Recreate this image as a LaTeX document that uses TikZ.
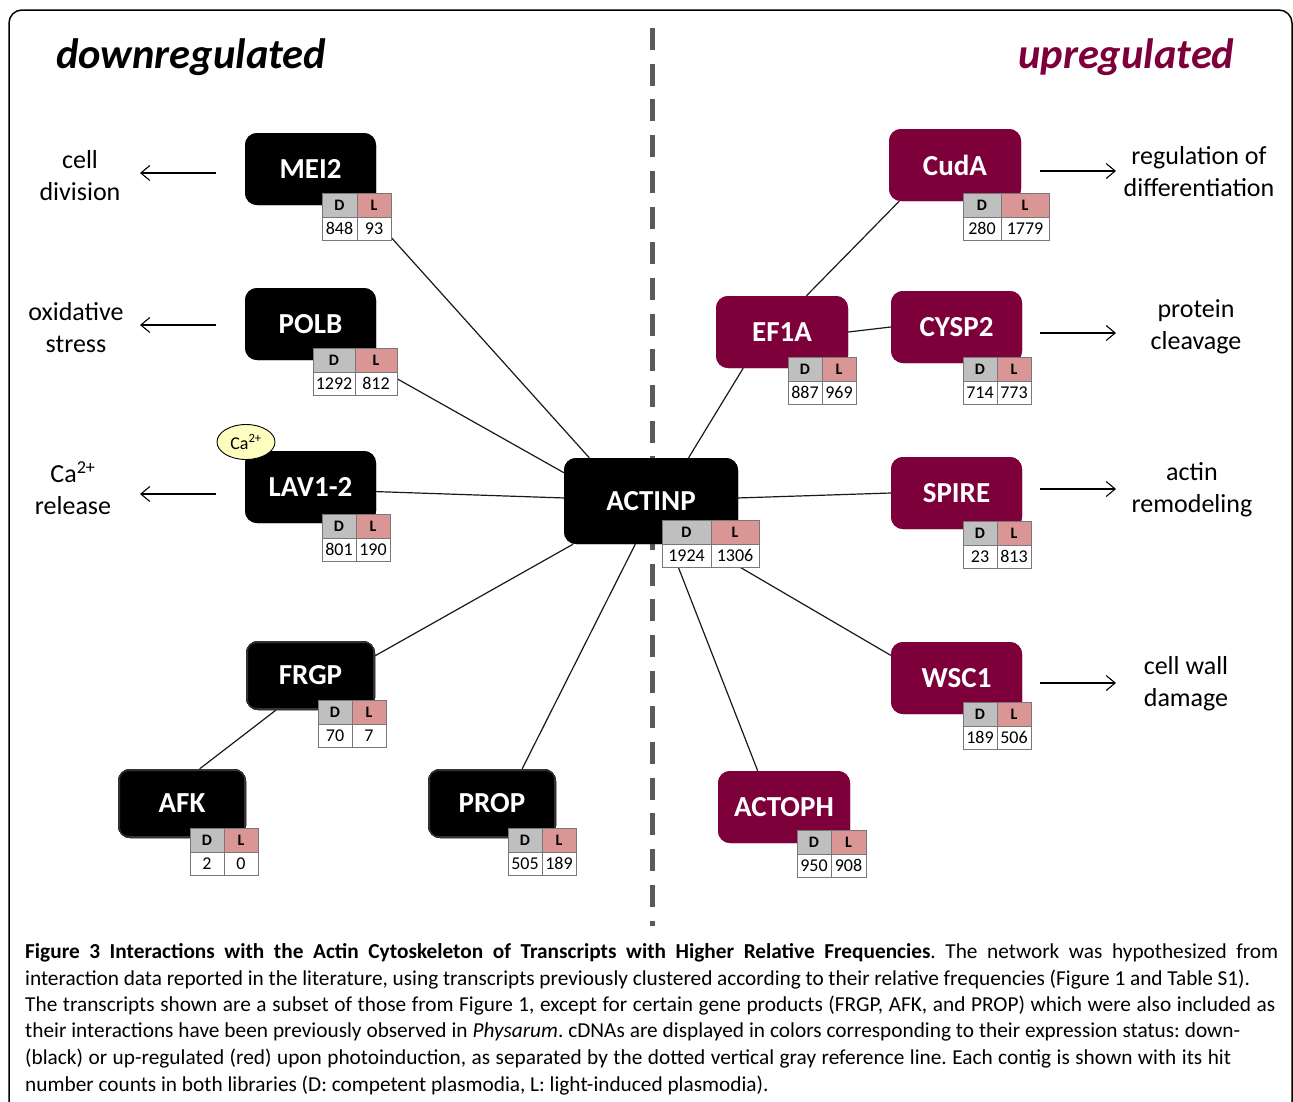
\documentclass[tikz,border=0pt]{standalone}
\usepackage{fontspec}
\setmainfont{Carlito}
\usetikzlibrary{arrows.meta,calc,shapes.geometric}
\definecolor{upred}{RGB}{125,0,58}
\definecolor{dgray}{RGB}{191,191,191}
\definecolor{lpink}{RGB}{217,150,148}
\definecolor{dashgray}{RGB}{90,90,90}
\definecolor{cellline}{RGB}{120,120,120}
\tikzset{
  gene/.style={rounded corners=12pt, minimum width=131, minimum height=72, inner sep=0pt,
    text=white, font=\fontsize{29}{30}\selectfont\bfseries},
  downbox/.style={gene, fill=black},
  upbox/.style={gene, fill=upred},
  bevelbox/.style={gene, fill=black, minimum width=129, minimum height=69,
    path picture={\draw[black!80, line width=4pt, rounded corners=10pt]
      (path picture bounding box.south west) rectangle (path picture bounding box.north east);}},
  cellbase/.style={draw=cellline, line width=0.9pt, inner sep=0pt, outer sep=0pt},
  hdD/.style={cellbase, fill=dgray, minimum height=24, font=\fontsize{16}{16}\selectfont\bfseries},
  hdL/.style={cellbase, fill=lpink, minimum height=24, font=\fontsize{16}{16}\selectfont\bfseries},
  valc/.style={cellbase, fill=white, minimum height=23, font=\fontsize{18}{18}\selectfont},
  link/.style={line width=1.2pt, black!90},
  fnarrow/.style={line width=1.1pt, -{Straight Barb[length=9pt,width=15pt,line width=1.1pt]}},
  fnlabel/.style={align=center, font=\fontsize{26}{32}\selectfont, inner sep=0pt},
  caplines/.style={anchor=base west, inner sep=0pt, font=\fontsize{21.3}{26}\selectfont\frenchspacing},
}
\newcommand\dltab[7]{%
  \node[hdD, minimum width=#4, anchor=north west] (#1hd) at (#2,#3) {D};
  \node[hdL, minimum width=#5, anchor=north west] (#1hl) at (#1hd.north east) {L};
  \node[valc, minimum width=#4, anchor=north west] (#1vd) at (#1hd.south west) {#6};
  \node[valc, minimum width=#5, anchor=north west] (#1vl) at (#1hd.south east) {#7};
}
\begin{document}
\begin{tikzpicture}[x=1pt, y=-1pt]
\useasboundingbox (0,0) rectangle (1293,1101);
% frame
\draw[line width=1.5pt, rounded corners=13pt] (9,1130) -- (9,10) -- (1292,10) -- (1292,1130);
% headers
\node[anchor=west, inner sep=0pt, font=\fontsize{42.5}{42}\selectfont\bfseries\itshape] (hdown) at (56,57) {downregulated};
\node[anchor=west, inner sep=0pt, text=upred, font=\fontsize{42.5}{42}\selectfont\bfseries\itshape] (hup) at (1018,57) {upregulated};
% dashed separator
\coordinate (dtop) at (652,28);
\coordinate (dbot) at (652,926);
\draw[dashgray, line width=5pt, dash pattern=on 22pt off 13.7pt] (dtop) -- (dbot);
% gene boxes
\node[downbox] (MEI2) at (310.5,169) {MEI2};
\node[downbox] (POLB) at (310.5,324) {POLB};
\node[downbox] (LAV) at (310.5,487) {LAV1-2};
\node[downbox, minimum width=174, minimum height=86] (ACTINP) at (651,501) {ACTINP};
\node[bevelbox] (FRGP) at (310.5,675.5) {FRGP};
\node[bevelbox, minimum width=128] (AFK) at (182,803.5) {AFK};
\node[bevelbox, minimum width=128] (PROP) at (492,803.5) {PROP};
\node[upbox, minimum width=132] (CudA) at (955,165) {CudA};
\node[upbox, minimum width=132] (EF1A) at (782,332) {EF1A};
\node[upbox] (CYSP2) at (956.5,327) {CYSP2};
\node[upbox] (SPIRE) at (956.5,493) {SPIRE};
\node[upbox] (WSC1) at (956.5,678) {WSC1};
\node[upbox, minimum width=132] (ACTOPH) at (784,807) {ACTOPH};
% links
\draw[link] (MEI2.-35.5) -- (ACTINP.145);
\draw[link] (POLB.-34.4) -- (ACTINP.162);
\draw[link] (LAV.-4) -- (ACTINP.178);
\draw[link] (FRGP.17.6) -- (ACTINP.209);
\draw[link] (FRGP.225.8) -- (AFK.63.8);
\draw[link] (PROP.49) -- (ACTINP.250.8);
\draw[link] (EF1A.56.3) -- (CudA.213.2);
\draw[link] (EF1A.223.5) -- (ACTINP.49.3);
\draw[link] (EF1A.east) -- (CYSP2.west);
\draw[link] (ACTINP.2.6) -- (SPIRE.west);
\draw[link] (ACTINP.-41.3) -- (WSC1.161.4);
\draw[link] (ACTINP.-67.3) -- (ACTOPH.126.9);
% redraw boxes over links
\node[downbox] at (MEI2) {MEI2};
\node[downbox] at (POLB) {POLB};
\node[downbox] at (LAV) {LAV1-2};
\node[downbox, minimum width=174, minimum height=86] at (ACTINP) {ACTINP};
\node[bevelbox] at (FRGP) {FRGP};
\node[bevelbox, minimum width=128] at (AFK) {AFK};
\node[bevelbox, minimum width=128] at (PROP) {PROP};
\node[upbox, minimum width=132] at (CudA) {CudA};
\node[upbox, minimum width=132] at (EF1A) {EF1A};
\node[upbox] at (CYSP2) {CYSP2};
\node[upbox] at (SPIRE) {SPIRE};
\node[upbox] at (WSC1) {WSC1};
\node[upbox, minimum width=132] at (ACTOPH) {ACTOPH};
% tables
\dltab{mei}{322}{193}{35}{34}{848}{93}
\dltab{polb}{313}{348}{42}{42}{1292}{812}
\dltab{lav}{322}{514}{34}{34}{801}{190}
\dltab{act}{662}{520}{49}{48}{1924}{1306}
\dltab{frgp}{318}{700}{34}{34}{70}{7}
\dltab{afk}{190}{828}{34}{34}{2}{0}
\dltab{prop}{508}{828}{34}{34}{505}{189}
\dltab{cuda}{963}{193}{38}{48}{280}{1779}
\dltab{ef}{788}{357}{34}{34}{887}{969}
\dltab{cysp}{963}{357}{34}{34}{714}{773}
\dltab{spire}{963}{521}{34}{34}{23}{813}
\dltab{wsc}{963}{702}{34}{34}{189}{506}
\dltab{actoph}{797}{830}{34}{35}{950}{908}
% Ca2+ bubble
\node[draw=black, line width=0.9pt, fill=yellow!25, ellipse, minimum width=58, minimum height=35, inner sep=0pt,
  font=\fontsize{18}{18}\selectfont] (ca) at (246,442) {Ca\textsuperscript{2+}};
% function labels
\node[fnlabel] (lcell) at (80,176) {cell\\division};
\node[fnlabel] (lox) at (76,328) {oxidative\\stress};
\node[fnlabel] (lca) at (73,488) {Ca\textsuperscript{2+}\\release};
\node[fnlabel] (lreg) at (1199,172) {regulation of\\differentiation};
\node[fnlabel] (lprot) at (1196,327) {protein\\cleavage};
\node[fnlabel] (lactin) at (1192,490) {actin\\remodeling};
\node[fnlabel] (lwall) at (1186,684) {cell wall\\damage};
% function arrows
\coordinate (a1s) at (216,173); \coordinate (a1e) at (140,173);
\coordinate (a2s) at (216,325); \coordinate (a2e) at (140,325);
\coordinate (a3s) at (216,494); \coordinate (a3e) at (140,494);
\coordinate (b1s) at (1040,171); \coordinate (b1e) at (1116,171);
\coordinate (b2s) at (1040,333); \coordinate (b2e) at (1116,333);
\coordinate (b3s) at (1040,489); \coordinate (b3e) at (1116,489);
\coordinate (b4s) at (1040,683); \coordinate (b4e) at (1116,683);
\foreach \s/\e in {a1s/a1e,a2s/a2e,a3s/a3e,b1s/b1e,b2s/b2e,b3s/b3e,b4s/b4e}
  \draw[fnarrow] (\s) -- (\e);
% caption
\node[caplines] (cap1) at (25,958) {\makebox[1253pt][s]{\textbf{Figure 3 Interactions with the Actin Cytoskeleton of Transcripts with Higher Relative Frequencies}. The network was hypothesized from}};
\node[caplines] (cap2) at (25,985) {\makebox[1225pt][s]{interaction data reported in the literature, using transcripts previously clustered according to their relative frequencies (Figure 1 and Table S1).}};
\node[caplines] (cap3) at (25,1011) {\makebox[1250pt][s]{The transcripts shown are a subset of those from Figure 1, except for certain gene products (FRGP, AFK, and PROP) which were also included as}};
\node[caplines] (cap4) at (25,1037) {\makebox[1215pt][s]{their interactions have been previously observed in \textit{Physarum}. cDNAs are displayed in colors corresponding to their expression status: down-}};
\node[caplines] (cap5) at (25,1064) {\makebox[1206pt][s]{(black) or up-regulated (red) upon photoinduction, as separated by the dotted vertical gray reference line. Each contig is shown with its hit}};
\node[caplines] (cap6) at (25,1091) {number counts in both libraries (D: competent plasmodia, L: light-induced plasmodia).};
\end{tikzpicture}
\end{document}
